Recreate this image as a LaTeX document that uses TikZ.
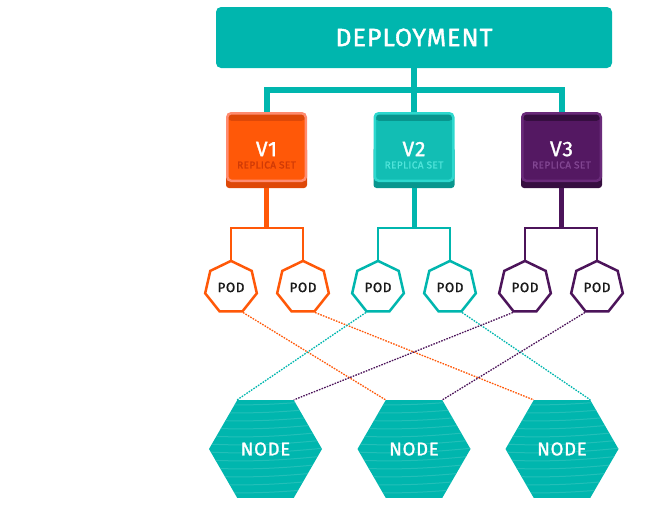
\documentclass[tikz,border=0pt]{standalone}
\usepackage{fontspec}
\setmainfont{Fira Sans}
\newfontfamily\kmed{Fira Sans}[FakeBold=1.4,LetterSpace=4]
\usepackage{tikz}
\usetikzlibrary{positioning}
\usetikzlibrary{shapes.geometric}
\usetikzlibrary{calc}
\definecolor{kteal}{RGB}{0,182,174}
\definecolor{ktealbox}{RGB}{18,190,180}
\definecolor{kteallt}{RGB}{45,216,206}
\definecolor{ktealdk}{RGB}{8,150,142}
\definecolor{ktealtx}{RGB}{80,228,218}
\definecolor{korange}{RGB}{255,88,8}
\definecolor{korangelt}{RGB}{255,140,112}
\definecolor{korangedk}{RGB}{222,72,8}
\definecolor{korangetx}{RGB}{208,58,6}
\definecolor{kpurple}{RGB}{84,24,98}
\definecolor{kpurplelt}{RGB}{106,42,122}
\definecolor{kpurpledk}{RGB}{54,14,64}
\definecolor{kpurpletx}{RGB}{130,70,146}
\definecolor{kpurpleln}{RGB}{76,20,90}
\tikzstyle{deploy}=[rectangle,rounded corners=5pt,fill=kteal,text=white,minimum width=396pt,minimum height=61pt,font=\kmed\fontsize{25}{25}\selectfont]
\tikzstyle{rsbox}=[rectangle,rounded corners=4pt,line width=2.5pt,minimum width=78.5pt,minimum height=67.5pt,inner sep=0pt]
\tikzstyle{vtitle}=[text=white,font=\kmed\fontsize{21}{21}\selectfont,inner sep=0pt]
\tikzstyle{rstitle}=[font=\kmed\fontsize{10}{10}\selectfont,inner sep=0pt]
\tikzstyle{pod}=[regular polygon,regular polygon sides=7,draw,line width=2.5pt,fill=white,minimum size=53pt,inner sep=0pt,text=black!90,font=\kmed\fontsize{13.5}{13.5}\selectfont]
\tikzstyle{knode}=[regular polygon,regular polygon sides=6,fill=kteal,minimum size=113pt,inner sep=0pt,text=white,font=\kmed\fontsize{18.5}{18.5}\selectfont]
\tikzstyle{trunk}=[kteal,line width=6pt]
\tikzstyle{stem}=[line width=5pt]
\tikzstyle{branch}=[line width=2pt,line join=miter]
\tikzstyle{link}=[line width=1.3pt,dash pattern=on 1.6pt off 1.2pt]
\tikzstyle{kstripe}=[kteal!75!white,line width=1pt,opacity=0.55]
\tikzset{stripes/.style={path picture={
  \begin{scope}[shift={(path picture bounding box.center)},rotate=#1]
    \foreach \k in {-9,...,9}
      \draw[kstripe] (-90,\k*8) to[bend right=6] (90,\k*8);
  \end{scope}}}}

\begin{document}
\begin{tikzpicture}[x=1pt,y=-1pt]
\useasboundingbox (0,0) rectangle (650,509);

%Deployment
\node[deploy] (dep) at (414,37.5) {DEPLOYMENT};

%Replica sets
  \foreach \x/\name/\label/\fc/\lc/\dk/\tc in {266.5/v1/V1/korange/korangelt/korangedk/korangetx, 414/v2/V2/ktealbox/kteallt/ktealdk/ktealtx, 561.5/v3/V3/kpurple/kpurplelt/kpurpledk/kpurpletx}
  {
    \fill[\dk,rounded corners=3pt] (\x-40.5,147) rectangle (\x+40.5,188);
    \node[rsbox,fill=\fc,draw=\lc,path picture={\fill[\dk] (path picture bounding box.north west) rectangle ($(path picture bounding box.north east)+(0,7.5)$);}] (\name) at (\x,147) {};
    \node[vtitle] (t\name) at (\x,149) {\label};
    \node[rstitle,text=\tc] (r\name) at (\x,165) {REPLICA SET};
  }

  \foreach \name in {v1,v2,v3}
          \draw[trunk] (dep.south) -- ++(0,22) -| (\name.north);

%Pods
  \foreach \pos/\name/\col in {{(231,287.4)/p1/korange}, {(303,287.4)/p2/korange}, {(378,287.4)/p3/kteal}, {(450,287.4)/p4/kteal}, {(525,287.4)/p5/kpurpleln}, {(597,287.4)/p6/kpurpleln}}
        \node[pod,draw=\col] (\name) at \pos {POD};

  \foreach \source/\a/\b/\col in {v1/p1/p2/korange, v2/p3/p4/kteal, v3/p5/p6/kpurpleln}
  {
    \coordinate (b\source) at ($(\source)+(0,81)$);
    \draw[stem,\col] ($(\source.south)+(0,6)$) -- (b\source);
    \draw[branch,\col] (\a.north) |- (b\source) -| (\b.north);
  }

%Nodes
\node[knode,stripes=-3] (n1) at (265.5,449) {NODE};
\node[knode,stripes=-18] (n2) at (414,449) {NODE};
\node[knode,stripes=-32] (n3) at (562,449) {NODE};

  \foreach \source/\dest/\col in {p1.corner 5/n2.corner 2/korange, p2.corner 5/n3.corner 2/korange, p3.corner 4/n1.corner 2/kteal, p4.corner 5/n3.corner 1/kteal, p5.corner 4/n1.corner 1/kpurpleln, p6.corner 4/n2.corner 1/kpurpleln}
          \draw[link,\col] (\source) -- (\dest);

\end{tikzpicture}
\end{document}
